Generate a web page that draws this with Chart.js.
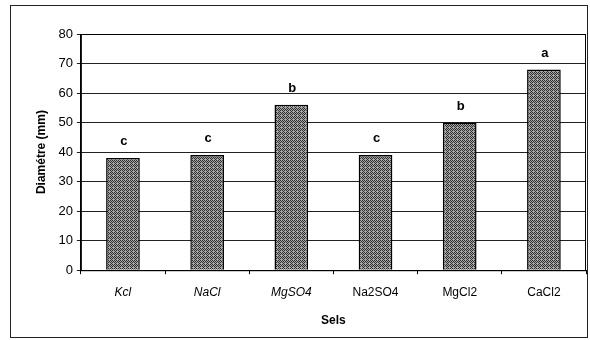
<!DOCTYPE html>
<html>
<head>
<meta charset="utf-8">
<script src="https://cdn.jsdelivr.net/npm/chart.js@4.4.0/dist/chart.umd.min.js"></script>
<style>
    html, body { margin: 0; padding: 0; background: #fff; }
    #wrap { width: 590px; height: 340px; position: relative; }
</style>
</head>
<body>
<div id="wrap"><canvas id="selsChart"></canvas></div>
<script>
// données
var sels = ["Kcl", "NaCl", "MgSO4", "Na2SO4", "MgCl2", "CaCl2"];
var diametre = [38, 39, 56, 39, 50, 68];
var lettres = ["c", "c", "b", "c", "b", "a"];
var italiques = [true, true, true, false, false, false];

// motif gris tramé des barres
function tramePattern() {
    var c = document.createElement("canvas");
    c.width = 4;
    c.height = 4;
    var g = c.getContext("2d");
    g.fillStyle = "#a6a6a6";
    g.fillRect(0, 0, 4, 4);
    g.fillStyle = "#2e2e2e";
    g.fillRect(0, 0, 1, 1);
    g.fillRect(2, 0, 1, 1);
    g.fillRect(1, 1, 1, 1);
    g.fillRect(3, 1, 1, 1);
    g.fillRect(0, 2, 1, 1);
    g.fillRect(2, 2, 1, 1);
    g.fillRect(3, 3, 1, 1);
    return g.createPattern(c, "repeat");
}

// cadre extérieur + bord du graphique + lettres au-dessus des barres
var cadrePlugin = {
    id: "cadre",
    beforeDraw: function (chart) {
        var ctx = chart.ctx;
        ctx.save();
        ctx.fillStyle = "#fff";
        ctx.fillRect(0, 0, chart.width, chart.height);
        ctx.strokeStyle = "#222";
        ctx.lineWidth = 1;
        ctx.strokeRect(10.5, 5.5, chart.width - 13, chart.height - 8);
        ctx.restore();
    },
    afterDraw: function (chart) {
        var ctx = chart.ctx;
        var a = chart.chartArea;
        ctx.save();
        ctx.strokeStyle = "#000";
        ctx.lineWidth = 1;
        ctx.strokeRect(a.left + 0.5, a.top + 0.5, a.right - a.left - 1, a.bottom - a.top);
        ctx.fillStyle = "#000";
        ctx.font = "bold 13px 'Liberation Sans', Arial, sans-serif";
        ctx.textAlign = "center";
        ctx.textBaseline = "bottom";
        chart.getDatasetMeta(0).data.forEach(function (bar, i) {
            ctx.fillText(lettres[i], bar.x + 1, bar.y - 10);
        });
        ctx.restore();
    }
};

var ctx = document.getElementById("selsChart").getContext("2d");
new Chart(ctx, {
    type: "bar",
    data: {
        labels: sels,
        datasets: [{
            data: diametre,
            backgroundColor: tramePattern(),
            borderColor: "#000",
            borderWidth: 1.5,
            categoryPercentage: 1,
            barPercentage: 0.4
        }]
    },
    options: {
        responsive: true,
        maintainAspectRatio: false,
        animation: false,
        layout: {
            padding: { left: 30, right: 4, top: 34, bottom: 8 }
        },
        plugins: {
            legend: { display: false },
            tooltip: { enabled: false }
        },
        scales: {
            x: {
                grid: {
                    offset: true,
                    drawOnChartArea: false,
                    color: "#000",
                    tickLength: 4
                },
                border: { color: "#000", width: 1 },
                ticks: {
                    color: "#000",
                    padding: 11,
                    font: function (c) {
                        return {
                            family: "'Liberation Sans', Arial, sans-serif",
                            size: 12,
                            style: italiques[c.index] ? "italic" : "normal"
                        };
                    }
                },
                title: {
                    display: true,
                    text: "Sels",
                    color: "#000",
                    padding: { top: 3 },
                    font: { family: "'Liberation Sans', Arial, sans-serif", size: 12, weight: "bold" }
                }
            },
            y: {
                min: 0,
                max: 80,
                ticks: {
                    stepSize: 10,
                    color: "#000",
                    padding: 4,
                    font: { family: "'Liberation Sans', Arial, sans-serif", size: 13 }
                },
                grid: {
                    color: "#222",
                    lineWidth: 1,
                    tickLength: 4
                },
                border: { color: "#000", width: 1 },
                title: {
                    display: true,
                    text: "Diamétre (mm)",
                    color: "#000",
                    padding: { bottom: 6 },
                    font: { family: "'Liberation Sans', Arial, sans-serif", size: 12, weight: "bold" }
                }
            }
        }
    },
    plugins: [cadrePlugin]
});
</script>
</body>
</html>
